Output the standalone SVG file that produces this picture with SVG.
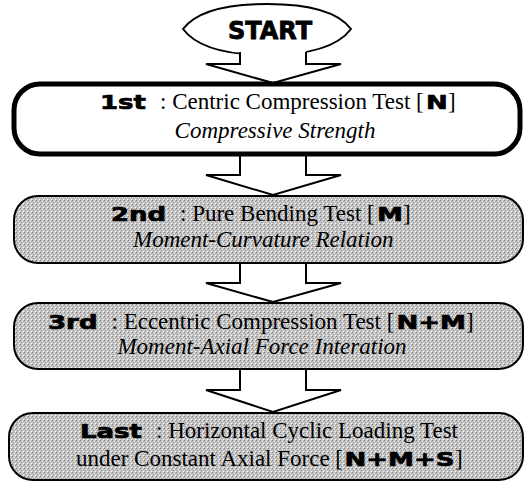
<svg xmlns="http://www.w3.org/2000/svg" width="527" height="483" viewBox="0 0 527 483">
<defs>
<pattern id="dots" width="4" height="4" patternUnits="userSpaceOnUse">
<rect width="4" height="4" fill="#c6c6c6"/>
<rect x="0" y="0" width="1" height="1" fill="#808080"/>
<rect x="2" y="1" width="1" height="1" fill="#f0f0f0"/>
<rect x="1" y="2" width="1" height="1" fill="#959595"/>
<rect x="3" y="3" width="1" height="1" fill="#ffffff"/>
<rect x="3" y="1" width="1" height="1" fill="#a0a0a0"/>
</pattern>
</defs>
<style>
.box1{fill:#fff;stroke:#000;stroke-width:5}
.box{fill:url(#dots);stroke:#000;stroke-width:2}
.arrowfill{fill:#fff;stroke:none}
.arrowline{fill:none;stroke:#000;stroke-width:2;stroke-linejoin:miter}
.t{font-family:"Liberation Serif","Times New Roman",serif;font-size:23px;fill:#000}
.i{font-style:italic}
.h{font-family:"DejaVu Sans","Liberation Sans",Arial,sans-serif;font-weight:bold;font-size:20px;fill:#000;stroke:#000;stroke-width:0.7}
.start{font-family:"DejaVu Sans","Liberation Sans",Arial,sans-serif;font-weight:bold;font-size:24px;text-anchor:middle;stroke:#000;stroke-width:0.8}
</style>
<g id="start">
<path d="M183,29 C198,9 232,4 267,4 C302,4 336,9 351,29 C336,49 302,55 267,55 C232,55 198,49 183,29 Z" fill="#fff" stroke="#000" stroke-width="2"/>
<text class="start" x="270" y="39">START</text>
</g>
<g id="connectors">
<polygon class="arrowfill" points="240,48 306,48 306,64 341,64 273,83 206,64 240,64"/>
<polyline class="arrowline" points="240,52 240,64 206,64 273,83 341,64 306,64 306,52"/>
<polygon class="arrowfill" points="240,157 306,157 306,175 341,175 273,195 206,175 240,175"/>
<polyline class="arrowline" points="240,156 240,175 206,175 273,195 341,175 306,175 306,156"/>
<polygon class="arrowfill" points="240,264 306,264 306,283 341,283 273,302 206,283 240,283"/>
<polyline class="arrowline" points="240,264 240,283 206,283 273,302 341,283 306,283 306,264"/>
<polygon class="arrowfill" points="240,370 306,370 306,390 341,390 273,412 206,390 240,390"/>
<polyline class="arrowline" points="240,370 240,390 206,390 273,412 341,390 306,390 306,370"/>
</g>
<g id="step1">
<rect class="box1" x="14" y="84" width="506" height="70" rx="26" ry="26"/>
<text class="h" transform="translate(100,109) scale(1.3,1)">1st</text>
<text class="t" x="160" y="109">: Centric Compression Test [</text>
<text class="h" transform="translate(426,109) scale(1.3,1)">N</text>
<text class="t" x="448" y="109">]</text>
<text class="t i" x="275" y="138" text-anchor="middle">Compressive Strength</text>
</g>
<g id="step2">
<rect class="box" x="14" y="196" width="509" height="67" rx="24" ry="24"/>
<text class="h" transform="translate(111,221) scale(1.3,1)">2nd</text>
<text class="t" x="180" y="221">: Pure Bending Test [</text>
<text class="h" transform="translate(377,221) scale(1.3,1)">M</text>
<text class="t" x="403" y="221">]</text>
<text class="t i" x="133" y="247">Moment-Curvature Relation</text>
</g>
<g id="step3">
<rect class="box" x="14" y="303" width="509" height="66" rx="24" ry="24"/>
<text class="h" transform="translate(48,329) scale(1.3,1)">3rd</text>
<text class="t" x="111.5" y="329">: Eccentric Compression Test [</text>
<text class="h" transform="translate(396.5,329) scale(1.3,1)">N+M</text>
<text class="t" x="466" y="329">]</text>
<text class="t i" x="262" y="354" text-anchor="middle" font-size="22">Moment-Axial Force Interation</text>
</g>
<g id="step4">
<rect class="box" x="9" y="413" width="514" height="67" rx="24" ry="24"/>
<text class="h" transform="translate(80,438) scale(1.3,1)">Last</text>
<text class="t" x="156" y="438">: Horizontal Cyclic Loading Test</text>
<text class="t" x="76" y="466">under Constant Axial Force [</text>
<text class="h" transform="translate(344.5,466) scale(1.3,1)">N+M+S</text>
<text class="t" x="455" y="466">]</text>
</g>
</svg>
